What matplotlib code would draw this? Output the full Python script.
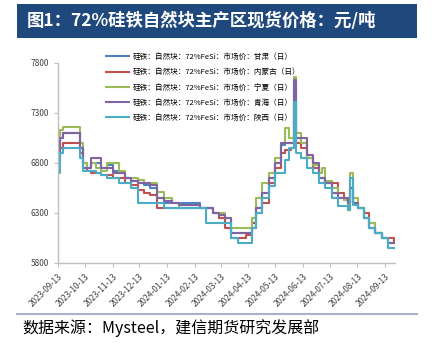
import matplotlib

matplotlib.use("Agg")
import matplotlib.dates as mdates
import matplotlib.pyplot as plt
import pandas as pd
from matplotlib.patches import Rectangle
from matplotlib.lines import Line2D

plt.rcParams["font.family"] = ["Noto Sans CJK SC", "DejaVu Sans"]

TITLE = "图1：72%硅铁自然块主产区现货价格：元/吨"
SOURCE = "数据来源：Mysteel，建信期货研究发展部"

# change points (price holds until the next date)
dates = [
    "2023-09-13", "2023-09-15", "2023-09-19", "2023-10-08", "2023-10-11",
    "2023-10-16", "2023-10-20", "2023-10-25", "2023-10-31", "2023-11-07",
    "2023-11-14", "2023-11-20", "2023-11-27", "2023-12-04", "2023-12-11",
    "2023-12-18", "2023-12-25", "2024-01-02", "2024-01-10", "2024-01-18",
    "2024-01-26", "2024-02-05", "2024-02-19", "2024-02-26", "2024-03-04",
    "2024-03-11", "2024-03-18", "2024-03-25", "2024-04-01", "2024-04-10",
    "2024-04-17", "2024-04-22", "2024-04-28", "2024-05-06", "2024-05-13",
    "2024-05-20", "2024-05-24", "2024-05-28", "2024-05-31", "2024-06-03",
    "2024-06-05", "2024-06-11", "2024-06-17", "2024-06-24", "2024-07-01",
    "2024-07-04", "2024-07-08", "2024-07-15", "2024-07-22", "2024-07-29",
    "2024-08-02", "2024-08-05", "2024-08-08", "2024-08-14", "2024-08-20",
    "2024-08-26", "2024-09-02", "2024-09-09", "2024-09-16", "2024-09-23",
]

gansu = [
    6870, 7050, 7100, 6950, 6750, 6750, 6800, 6800, 6750, 6780,
    6720, 6700, 6650, 6620, 6600, 6580, 6550, 6450, 6400, 6400,
    6400, 6400, 6350, 6350, 6300, 6250, 6200, 6100, 6100, 6100,
    6150, 6350, 6500, 6650, 6800, 6980, 7000, 7000, 7000, 7550,
    7050, 7000, 6850, 6750, 6650, 6650, 6600, 6500, 6450, 6430,
    6400, 6550, 6400, 6350, 6250, 6150, 6100, 6050, 6000, 6000,
]
neimenggu = [
    6820, 6950, 7000, 6900, 6800, 6720, 6700, 6700, 6680, 6680,
    6650, 6650, 6600, 6580, 6530, 6500, 6480, 6350, 6350, 6350,
    6350, 6350, 6350, 6350, 6300, 6250, 6150, 6050, 6050, 6080,
    6200, 6300, 6400, 6600, 6750, 6900, 6930, 6930, 6950, 7400,
    7000, 6950, 6850, 6750, 6650, 6650, 6600, 6600, 6500, 6450,
    6400, 6550, 6400, 6350, 6300, 6200, 6100, 6050, 6050, 6000,
]
ningxia = [
    6900, 7130, 7160, 7000, 6800, 6750, 6800, 6750, 6720, 6800,
    6800, 6720, 6650, 6650, 6630, 6600, 6600, 6510, 6450, 6400,
    6350, 6350, 6350, 6350, 6300, 6300, 6250, 6150, 6150, 6150,
    6250, 6450, 6600, 6700, 6850, 7000, 7150, 7050, 7050, 7660,
    7100, 7000, 6850, 6780, 6700, 6750, 6620, 6550, 6450, 6430,
    6330, 6700, 6450, 6350, 6250, 6200, 6100, 6050, 6000, 6000,
]
qinghai = [
    6870, 7050, 7100, 6950, 6750, 6750, 6850, 6850, 6750, 6750,
    6700, 6700, 6650, 6620, 6600, 6600, 6580, 6450, 6420, 6400,
    6380, 6380, 6350, 6350, 6300, 6280, 6250, 6100, 6100, 6100,
    6150, 6350, 6500, 6650, 6800, 7000, 7000, 7000, 7000, 7630,
    7050, 7050, 6880, 6800, 6650, 6650, 6600, 6500, 6450, 6450,
    6400, 6550, 6400, 6350, 6250, 6150, 6100, 6050, 6000, 6000,
]
shaanxi = [
    6700, 6900, 6950, 6850, 6720, 6720, 6720, 6700, 6680, 6650,
    6650, 6600, 6600, 6550, 6400, 6400, 6400, 6400, 6350, 6350,
    6350, 6350, 6350, 6200, 6200, 6200, 6200, 6050, 6000, 6000,
    6150, 6300, 6450, 6570, 6700, 6700, 6830, 6950, 6950, 7410,
    6900, 6850, 6750, 6700, 6600, 6600, 6550, 6450, 6370, 6370,
    6330, 6650, 6380, 6350, 6250, 6150, 6100, 6050, 5950, 5950,
]

labels = [
    "硅铁：自然块：72%FeSi：市场价：甘肃（日）",
    "硅铁：自然块：72%FeSi：市场价：内蒙古（日）",
    "硅铁：自然块：72%FeSi：市场价：宁夏（日）",
    "硅铁：自然块：72%FeSi：市场价：青海（日）",
    "硅铁：自然块：72%FeSi：市场价：陕西（日）",
]
series = [gansu, neimenggu, ningxia, qinghai, shaanxi]
colors = ["#4F81BD", "#C0504D", "#9BBB59", "#8064A2", "#4BACC6"]

tick_dates = pd.date_range("2023-09-01", "2024-09-01", freq="MS") + pd.Timedelta(days=12)
x = pd.to_datetime(dates)

fig = plt.figure(figsize=(4.32, 3.43), dpi=100)

# title band
fig.patches.append(Rectangle((17 / 432, 1 - 38 / 343), 400 / 432, 34 / 343,
                             transform=fig.transFigure, facecolor="#1F497D",
                             edgecolor="none"))
fig.text(27 / 432, 1 - 21 / 343, TITLE, color="white", fontsize=12.5,
         fontweight="bold", va="center", ha="left")

ax = fig.add_axes([58 / 432, 1 - 263 / 343, 337 / 432, 200 / 343])
for vals, c in zip(series, colors):
    ax.plot(x, vals, color=c, linewidth=1.5, drawstyle="steps-post")

ax.set_ylim(5800, 7800)
ax.set_yticks([5800, 6300, 6800, 7300, 7800])
ax.set_xlim(pd.Timestamp("2023-09-13"), pd.Timestamp("2024-09-24"))
ax.set_xticks(tick_dates)
ax.xaxis.set_major_formatter(mdates.DateFormatter("%Y-%m-%d"))
for lab in ax.get_xticklabels():
    lab.set_rotation(45)
    lab.set_ha("right")
    lab.set_rotation_mode("anchor")
ax.tick_params(axis="both", labelsize=6, colors="#BFBFBF", labelcolor="#404040",
               length=3, width=0.8)
for side in ["top", "right"]:
    ax.spines[side].set_visible(False)
for side in ["left", "bottom"]:
    ax.spines[side].set_color("#BFBFBF")
    ax.spines[side].set_linewidth(1.0)

handles = [Line2D([], [], color=c, linewidth=1.5) for c in colors]
fig.legend(handles, labels, loc="upper left",
           bbox_to_anchor=(103 / 432, 1 - 50 / 343), frameon=False,
           fontsize=5.5, handlelength=3.0, labelspacing=0.95, handletextpad=0.5,
           borderaxespad=0)

# source line
fig.add_artist(Line2D([17 / 432, 417 / 432], [1 - 314 / 343, 1 - 314 / 343],
                      transform=fig.transFigure, color="#A5B4C8", linewidth=1.5))
fig.text(22 / 432, 1 - 328 / 343, SOURCE, fontsize=11.5, style="italic",
         va="center", ha="left", color="black")

fig.savefig("out.png", dpi=100, facecolor="white")
